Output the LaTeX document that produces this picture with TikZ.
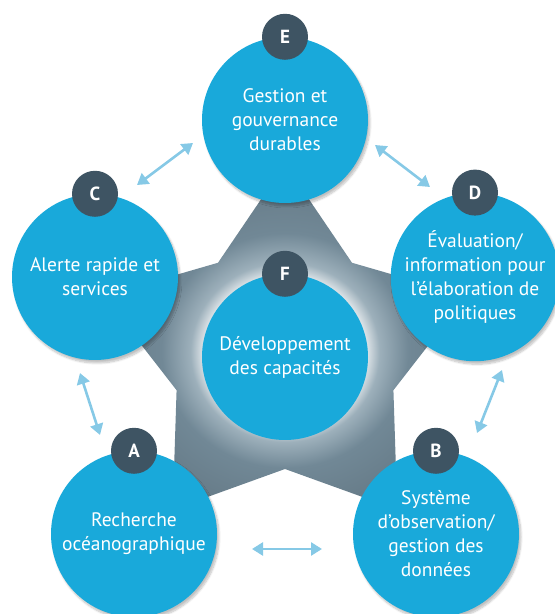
\documentclass[tikz,border=0pt]{standalone}
\usepackage{fontspec}
\setmainfont{PT Sans}
\usetikzlibrary{arrows.meta,calc,positioning,shadows.blur}

\definecolor{oceanblue}{HTML}{19A9DA}
\definecolor{badgegray}{HTML}{3E5463}
\definecolor{arrowblue}{HTML}{86C9E6}
\definecolor{stargray}{HTML}{718896}
\definecolor{starlight}{HTML}{9DB0BB}

\pgfdeclareradialshading{starglow}{\pgfpoint{0bp}{-3bp}}{%
  color(0bp)=(white); color(11bp)=(white!75!starlight);
  color(13bp)=(starlight); color(17bp)=(stargray);
  color(25bp)=(stargray!90!black); color(50bp)=(stargray!90!black)}

\begin{document}
\begin{tikzpicture}[
  x=1pt, y=1pt,
  disc/.style={circle, fill=oceanblue, minimum size=166pt, inner sep=0pt,
    text=white, align=center, font=\fontsize{19.5}{24}\selectfont},
  shadowed/.style={blur shadow={shadow blur steps=8, shadow xshift=2pt,
    shadow yshift=-3pt, shadow opacity=25}},
  badge/.style={circle, fill=badgegray, minimum size=46pt, inner sep=0pt,
    text=white, font=\fontsize{19}{19}\selectfont\bfseries},
  link/.style={draw=arrowblue, line width=2.6pt,
    {Triangle[length=11pt,width=13pt]}-{Triangle[length=11pt,width=13pt]}},
  node distance=190pt
  ]
  \useasboundingbox (0,0) rectangle (555,614);

  % Star behind the circles
  \coordinate (ctr) at (285,259);
  \shade[shading=starglow, shift={(ctr)}]
    (90:191) -- (126:114) -- (162:191) -- (198:114) -- (234:191) --
    (270:114) -- (306:191) -- (342:114) -- (18:191) -- (54:114) -- cycle;

  % Centre circle
  \node[disc] (F) at (285,257) {Développement\\des capacités};

  % Outer circles
  \node[disc, shadowed, above of=F, node distance=237pt] (E) {Gestion et\\gouvernance\\durables};
  \node[disc, shadowed, left of=F, yshift=80pt] (C) {Alerte rapide et\\services};
  \node[disc, shadowed, right of=F, yshift=80pt] (D) {Évaluation/\\information pour\\l’élaboration de\\politiques};
  \node[disc, shadowed, below of=F, node distance=177pt, xshift=-151pt] (A) {Recherche\\océanographique};
  \node[disc, shadowed, below of=F, node distance=177pt, xshift=151pt] (B) {Système\\d’observation/\\gestion des\\données};

  % Letters
  \node[badge] (bA) at (A.north) {A};
  \node[badge] (bB) at (B.north) {B};
  \node[badge] (bC) at (C.north) {C};
  \node[badge] (bD) at (D.north) {D};
  \node[badge] (bE) at (E.north) {E};
  \node[badge] (bF) at (F.north) {F};

  % Arrow ends
  \coordinate (ce1) at (137,429);
  \coordinate (ce2) at (193,471);
  \coordinate (ed1) at (375,469);
  \coordinate (ed2) at (430,427);
  \coordinate (ca1) at (80,241);
  \coordinate (ca2) at (100,179);
  \coordinate (db1) at (502,244);
  \coordinate (db2) at (477,181);
  \coordinate (ab1) at (252,65);
  \coordinate (ab2) at (322,65);

  % Connections
  \draw[link] (ce1) -- (ce2);
  \draw[link] (ed1) -- (ed2);
  \draw[link] (ca1) -- (ca2);
  \draw[link] (db1) -- (db2);
  \draw[link] (ab1) -- (ab2);

\end{tikzpicture}
\end{document}
